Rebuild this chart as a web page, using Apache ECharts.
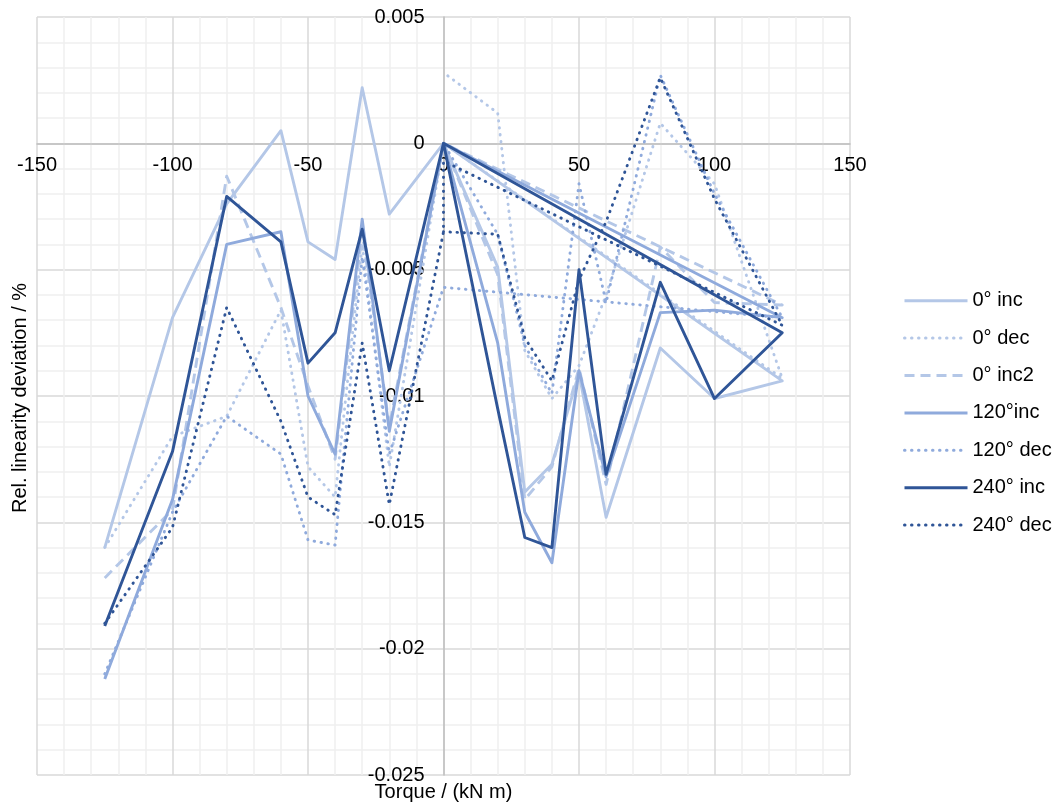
<!DOCTYPE html>
<html>
<head>
<meta charset="utf-8">
<script src="https://cdn.jsdelivr.net/npm/echarts@6/dist/echarts.min.js"></script>
<style>
html,body{margin:0;padding:0;background:#fff;}
#chart{width:1057px;height:805px;}
</style>
</head>
<body>
<div id="chart"></div>
<script>
// ---- data ----
const seriesNames = ['0° inc', '0° dec', '0° inc2', '120°inc', '120° dec', '240° inc', '240° dec'];

// x order for increasing runs (left branch, then positive branch, back to 0)
const xInc = [-125, -100, -80, -60, -50, -40, -30, -20, 0, 20, 30, 40, 50, 60, 80, 100, 125, 0];
const y0Inc   = [-0.0160, -0.0069, -0.0024, 0.0005, -0.0039, -0.0046, 0.0022, -0.0028, 0, -0.0049, -0.0138, -0.0127, -0.0091, -0.0148, -0.0081, -0.0101, -0.0094, 0];
const y0Inc2  = [-0.0172, -0.0145, -0.0013, -0.0065, -0.0096, -0.0125, -0.0035, -0.0112, 0, -0.0052, -0.0141, -0.0128, -0.0089, -0.0135, -0.0041, -0.0063, -0.0064, 0];
const y120Inc = [-0.0212, -0.0141, -0.0040, -0.0035, -0.0100, -0.0123, -0.0030, -0.0114, 0, -0.0079, -0.0146, -0.0166, -0.0090, -0.0132, -0.0067, -0.0066, -0.0069, 0];
const y240Inc = [-0.0191, -0.0122, -0.0021, -0.0039, -0.0087, -0.0075, -0.0034, -0.0090, 0, -0.0105, -0.0156, -0.0160, -0.0050, -0.0131, -0.0055, -0.0101, -0.0075, 0];

// x order for decreasing runs
const xDec = [-125, -100, -80, -60, -50, -40, -30, -20, 0, 125, 100, 80, 60, 50, 40, 30, 20, 0];
const y0Dec   = [-0.0160, -0.0116, -0.0108, -0.0066, -0.0128, -0.0140, -0.0040, -0.0128, 0, -0.0093, -0.0016, 0.0008, -0.0060, -0.0088, -0.0101, -0.0082, 0.0012, 0.0028];
const y120Dec = [-0.0210, -0.0146, -0.0108, -0.0123, -0.0157, -0.0159, -0.0045, -0.0123, -0.0057, -0.0069, -0.0020, 0.0027, -0.0063, -0.0016, -0.0099, -0.0080, -0.0036, 0];
const x240Dec = [-125, -100, -80, -60, -50, -40, -30, -20, 0, 0, 125, 100, 80, 60, 50, 40, 30, 20, 0];
const y240Dec = [-0.0190, -0.0152, -0.0065, -0.0110, -0.0140, -0.0147, -0.0079, -0.0143, -0.0035, -0.0007, -0.0072, -0.0022, 0.0026, -0.0031, -0.0054, -0.0094, -0.0077, -0.0036, -0.0035];

const xTickLabels = ['-150', '-100', '-50', '0', '50', '100', '150'];
const yTickLabels = ['-0.025', '-0.02', '-0.015', '-0.01', '-0.005', '0', '0.005'];

// ---- layout / styles ----
const X_MIN = -150, X_MAX = 150, Y_MIN = -0.025, Y_MAX = 0.005;
const W = 1057, H = 805, G_LEFT = 37, G_RIGHT = 207, G_TOP = 17, G_BOTTOM = 30;
const gridW = W - G_LEFT - G_RIGHT, gridH = H - G_TOP - G_BOTTOM;
// shift axes so they cross at the origin
const xAxisOffset = -gridH * (0 - Y_MIN) / (Y_MAX - Y_MIN);
const yAxisOffset = -gridW * (0 - X_MIN) / (X_MAX - X_MIN);

const cLight = '#B4C7E7', cMed = '#8FAADC', cDark = '#2F5597';
const FONT = '"Liberation Sans", Arial, sans-serif';
const DOT = [0.5, 6.5], DASH = [10, 6];

function pairs(xs, ys) { return xs.map((x, i) => [x, ys[i]]); }
function mk(name, xs, ys, color, type) {
  return {
    name: name, type: 'line', data: pairs(xs, ys),
    symbol: 'none', showSymbol: false, smooth: false,
    lineStyle: { color: color, width: 2.9, type: type, cap: type === DOT ? 'round' : 'butt', join: 'round' },
    itemStyle: { color: color },
    emphasis: { disabled: true },
    animation: false
  };
}

const chart = echarts.init(document.getElementById('chart'), null, { renderer: 'canvas' });
chart.setOption({
  backgroundColor: '#fff',
  animation: false,
  grid: { left: G_LEFT, right: G_RIGHT, top: G_TOP, bottom: G_BOTTOM, outerBoundsMode: 'none', containLabel: false },
  xAxis: {
    type: 'value', min: X_MIN, max: X_MAX, interval: 50,
    position: 'bottom', offset: xAxisOffset,
    axisLine: { show: true, onZero: false, lineStyle: { color: '#BFBFBF', width: 1.5 } },
    axisTick: { show: false },
    minorTick: { show: false, splitNumber: 5 },
    axisLabel: {
      color: '#000', fontSize: 20, fontFamily: FONT, margin: 12,
      showMinLabel: true, showMaxLabel: true,
      formatter: v => xTickLabels[Math.round((v - X_MIN) / 50)]
    },
    splitLine: { show: true, lineStyle: { color: '#D9D9D9', width: 1.5 } },
    minorSplitLine: { show: true, lineStyle: { color: '#F0F0F0', width: 1.5 } }
  },
  yAxis: {
    type: 'value', min: Y_MIN, max: Y_MAX, interval: 0.005,
    position: 'left', offset: yAxisOffset,
    axisLine: { show: true, onZero: false, lineStyle: { color: '#BFBFBF', width: 1.5 } },
    axisTick: { show: false },
    minorTick: { show: false, splitNumber: 5 },
    axisLabel: {
      color: '#000', fontSize: 20, fontFamily: FONT, margin: 19,
      showMinLabel: true, showMaxLabel: true,
      formatter: v => yTickLabels[Math.round((v - Y_MIN) / 0.005)]
    },
    splitLine: { show: true, lineStyle: { color: '#D9D9D9', width: 1.5 } },
    minorSplitLine: { show: true, lineStyle: { color: '#F0F0F0', width: 1.5 } }
  },
  legend: {
    orient: 'vertical', left: 898, top: 285.7,
    itemWidth: 63, itemHeight: 20, itemGap: 17.4,
    itemStyle: { opacity: 0 },
    lineStyle: { width: 3 },
    textStyle: { color: '#000', fontSize: 20, fontFamily: FONT },
    data: seriesNames,
    selectedMode: false
  },
  graphic: [
    { type: 'text', x: 443.5, y: 792, style: { text: 'Torque / (kN m)', align: 'center', verticalAlign: 'middle', fill: '#000', font: '20px ' + FONT } },
    { type: 'text', rotation: Math.PI / 2, x: 20, y: 398, style: { text: 'Rel. linearity deviation / %', align: 'center', verticalAlign: 'middle', fill: '#000', font: '20px ' + FONT } }
  ],
  series: [
    mk(seriesNames[0], xInc, y0Inc, cLight, 'solid'),
    mk(seriesNames[1], xDec, y0Dec, cLight, DOT),
    mk(seriesNames[2], xInc, y0Inc2, cLight, DASH),
    mk(seriesNames[3], xInc, y120Inc, cMed, 'solid'),
    mk(seriesNames[4], xDec, y120Dec, cMed, DOT),
    mk(seriesNames[5], xInc, y240Inc, cDark, 'solid'),
    mk(seriesNames[6], x240Dec, y240Dec, cDark, DOT)
  ]
});
</script>
</body>
</html>
